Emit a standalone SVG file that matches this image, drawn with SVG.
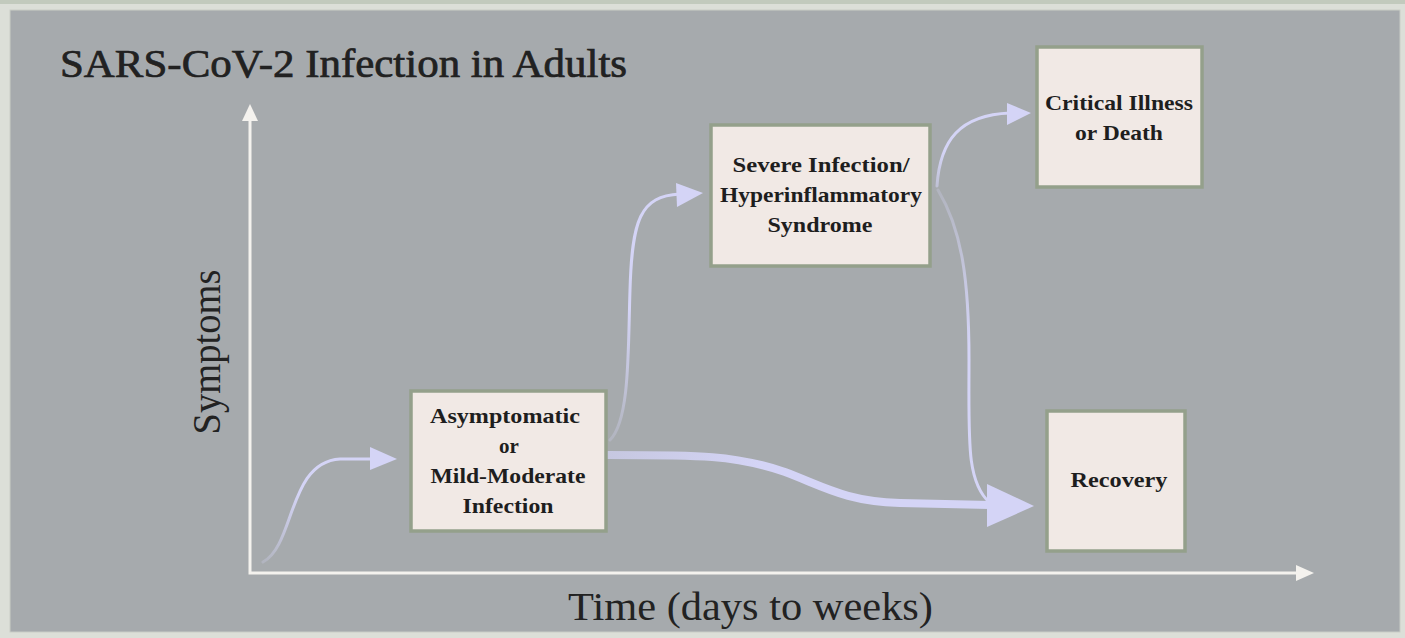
<svg xmlns="http://www.w3.org/2000/svg" width="1405" height="638" viewBox="0 0 1405 638">
  <defs>
    <style>
      .box { fill: #f1e9e5; stroke: #94a08b; stroke-width: 3.5; }
      .lbl { font-family: "Liberation Serif", "Times New Roman", serif; font-size: 21px; font-weight: bold; fill: #1e1e1e; }
      .axis { stroke: #f4f2ee; stroke-width: 3; fill: none; }
      .axishead { fill: #f4f2ee; }
      .flow { fill: none; stroke-linecap: round; }
      .head { fill: #d4d4f6; }
      .big { font-family: "Liberation Serif", "Times New Roman", serif; fill: #222; }
    </style>
    <linearGradient id="g1" gradientUnits="userSpaceOnUse" x1="263" y1="562" x2="340" y2="458">
      <stop offset="0" stop-color="#d4d4f6" stop-opacity="0.25"/>
      <stop offset="0.6" stop-color="#d4d4f6" stop-opacity="1"/>
    </linearGradient>
    <linearGradient id="g2" gradientUnits="userSpaceOnUse" x1="0" y1="440" x2="0" y2="200">
      <stop offset="0" stop-color="#d4d4f6" stop-opacity="0.25"/>
      <stop offset="0.55" stop-color="#d4d4f6" stop-opacity="1"/>
    </linearGradient>
    <linearGradient id="g3" gradientUnits="userSpaceOnUse" x1="0" y1="190" x2="0" y2="113">
      <stop offset="0" stop-color="#d4d4f6" stop-opacity="0.5"/>
      <stop offset="0.5" stop-color="#d4d4f6" stop-opacity="1"/>
    </linearGradient>
    <linearGradient id="g4" gradientUnits="userSpaceOnUse" x1="0" y1="190" x2="0" y2="500">
      <stop offset="0" stop-color="#d4d4f6" stop-opacity="0.25"/>
      <stop offset="0.5" stop-color="#d4d4f6" stop-opacity="1"/>
    </linearGradient>
    <linearGradient id="g5" gradientUnits="userSpaceOnUse" x1="608" y1="0" x2="990" y2="0">
      <stop offset="0" stop-color="#d4d4f6" stop-opacity="0.7"/>
      <stop offset="0.4" stop-color="#d4d4f6" stop-opacity="1"/>
    </linearGradient>
  </defs>

  <!-- frame and panel -->
  <rect x="0" y="0" width="1405" height="638" fill="#dcdfd8"/>
  <rect x="0" y="0" width="1405" height="4" fill="#c2cabd"/>
  <rect x="10" y="10" width="1390" height="622" fill="#a6aaad" stroke="#c9cdc6" stroke-width="1"/>

  <!-- title and axis labels -->
  <text class="big" x="60" y="77" font-size="39" stroke="#1e1e1e" stroke-width="0.7" textLength="567" lengthAdjust="spacingAndGlyphs">SARS-CoV-2 Infection in Adults</text>
  <text class="big" transform="translate(220,352) rotate(-90)" text-anchor="middle" font-size="40" textLength="165" lengthAdjust="spacingAndGlyphs">Symptoms</text>
  <text class="big" x="568" y="620" font-size="40" textLength="365" lengthAdjust="spacingAndGlyphs">Time (days to weeks)</text>

  <!-- axes -->
  <g id="axes">
    <polyline class="axis" points="250,118 250,573 1300,573"/>
    <polygon class="axishead" points="250,104 242,121 258,121"/>
    <polygon class="axishead" points="1314,573 1296,565 1296,581"/>
  </g>

  <!-- connectors -->
  <g id="connectors">
    <path class="flow" stroke="url(#g1)" stroke-width="3" d="M263,562 C295,545 288,462 340,459 L374,459"/>
    <polygon class="head" points="370,447 397,459 370,470"/>

    <path class="flow" stroke="url(#g2)" stroke-width="3" d="M610,440 C630,420 628,350 630,290 C632,220 640,196 680,194"/>
    <polygon class="head" points="676,183 703,193 677,207"/>

    <path class="flow" stroke="url(#g3)" stroke-width="3" d="M937,186 C940,140 960,115 1010,113"/>
    <polygon class="head" points="1007,103 1031,113 1007,125"/>

    <path class="flow" stroke="url(#g4)" stroke-width="3" d="M938,190 C962,230 969,280 969,360 C969,440 966,482 990,503"/>

    <path class="flow" stroke="url(#g5)" stroke-width="8" stroke-linecap="butt" d="M608,455 C700,455 735,455 785,472 C825,487 845,501 900,503 L990,505"/>
    <polygon class="head" points="987,484 1034,506 987,527"/>
  </g>

  <!-- nodes -->
  <g id="node-mild">
    <rect class="box" x="411" y="391" width="195" height="140"/>
    <text class="lbl" x="505" y="423" text-anchor="middle" textLength="150" lengthAdjust="spacingAndGlyphs">Asymptomatic</text>
    <text class="lbl" x="509" y="453" text-anchor="middle">or</text>
    <text class="lbl" x="508" y="483" text-anchor="middle" textLength="155" lengthAdjust="spacingAndGlyphs">Mild-Moderate</text>
    <text class="lbl" x="508" y="513" text-anchor="middle" textLength="91" lengthAdjust="spacingAndGlyphs">Infection</text>
  </g>

  <g id="node-severe">
    <rect class="box" x="711" y="125" width="219" height="141"/>
    <text class="lbl" x="821" y="172" text-anchor="middle" textLength="177" lengthAdjust="spacingAndGlyphs">Severe Infection/</text>
    <text class="lbl" x="821" y="202" text-anchor="middle" textLength="202" lengthAdjust="spacingAndGlyphs">Hyperinflammatory</text>
    <text class="lbl" x="820" y="232" text-anchor="middle" textLength="105" lengthAdjust="spacingAndGlyphs">Syndrome</text>
  </g>

  <g id="node-critical">
    <rect class="box" x="1037" y="47" width="165" height="140"/>
    <text class="lbl" x="1119" y="110" text-anchor="middle" textLength="148" lengthAdjust="spacingAndGlyphs">Critical Illness</text>
    <text class="lbl" x="1119" y="140" text-anchor="middle" textLength="88" lengthAdjust="spacingAndGlyphs">or Death</text>
  </g>

  <g id="node-recovery">
    <rect class="box" x="1047" y="411" width="138" height="140"/>
    <text class="lbl" x="1119" y="487" text-anchor="middle" textLength="97" lengthAdjust="spacingAndGlyphs">Recovery</text>
  </g>
</svg>
